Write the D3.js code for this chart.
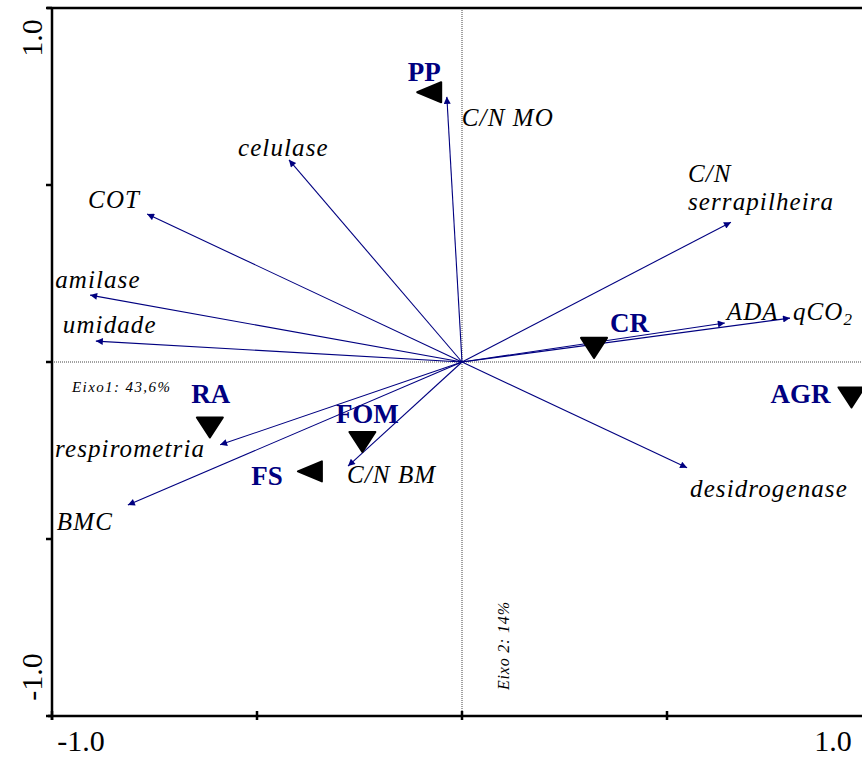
<!DOCTYPE html>
<html>
<head>
<meta charset="utf-8">
<script src="https://cdn.jsdelivr.net/npm/d3@7"></script>
<style>
  body { margin: 0; background: #fff; }
  svg { display: block; }
</style>
</head>
<body>
<div id="root"></div>
<script>
// variables (arrows)
var varNames = ["C/N MO", "celulase", "COT", "amilase", "umidade", "respirometria",
                "BMC", "C/N BM", "desidrogenase", "C/N serrapilheira", "ADA", "qCO2"];
var varX = [-0.037, -0.422, -0.768, -0.907, -0.893, -0.590, -0.815, -0.278, 0.549, 0.656, 0.641, 0.800];
var varY = [0.749, 0.571, 0.418, 0.189, 0.059, -0.234, -0.404, -0.294, -0.299, 0.395, 0.110, 0.124];

// sites (triangles)
var siteNames = ["PP", "CR", "AGR", "RA", "FS", "FOM"];
var siteX = [-0.080, 0.322, 0.950, -0.615, -0.371, -0.243];
var siteY = [0.762, 0.040, -0.100, -0.185, -0.309, -0.226];
var siteShape = ["left", "down", "down", "down", "left", "down"];

var tickValues = [-1, -0.5, 0, 0.5, 1];
var axisLabels = ["-1.0", "1.0"];
var axis1Label = "Eixo1: 43,6%";
var axis2Label = "Eixo 2: 14%";

// label placement (pixels from arrow tip / symbol centre)
var varLabelPos = [
  [15, 29], [-51, -4], [-59, -6], [-35, -7], [-33, -8], [-165, 12],
  [-71, 25], [-1, 17], [3, 29], [-43, -40], [2, -3], [3, 2]
];
var siteLabelPos = [
  [-5, -11, "middle"], [16, -16, "start"], [-21, 6, "end"],
  [1, -24, "middle"], [-27, 14, "end"], [5, -19, "middle"]
];

var width = 862, height = 758;
var navy = "#000080";

var svg = d3.select("#root").append("svg")
    .attr("width", width)
    .attr("height", height);

var x = d3.scaleLinear().domain([-1, 1]).range([52, 872]);
var y = d3.scaleLinear().domain([-1, 1]).range([716, 8]);

svg.append("defs").append("marker")
    .attr("id", "head")
    .attr("viewBox", "0 0 10 10")
    .attr("refX", 10).attr("refY", 5)
    .attr("markerWidth", 9).attr("markerHeight", 7)
    .attr("markerUnits", "userSpaceOnUse")
    .attr("orient", "auto")
  .append("path")
    .attr("d", "M0,0L10,5L0,10Z")
    .attr("fill", navy);

// zero lines
svg.append("line")
    .attr("x1", x(0)).attr("x2", x(0))
    .attr("y1", y(1)).attr("y2", y(-1))
    .attr("stroke", "#444").attr("stroke-width", 1)
    .attr("stroke-dasharray", "1,1");
svg.append("line")
    .attr("x1", x(-1)).attr("x2", width)
    .attr("y1", y(0)).attr("y2", y(0))
    .attr("stroke", "#444").attr("stroke-width", 1)
    .attr("stroke-dasharray", "1,1");

// frame / axes
var frame = svg.append("g").attr("stroke", "#000").attr("stroke-width", 2.5);
frame.append("line").attr("x1", x(-1) - 5).attr("x2", width).attr("y1", y(1)).attr("y2", y(1));
frame.append("line").attr("x1", x(-1)).attr("x2", x(-1)).attr("y1", y(1)).attr("y2", y(-1) + 4);
frame.append("line").attr("x1", x(-1) - 4).attr("x2", width).attr("y1", y(-1)).attr("y2", y(-1));

frame.selectAll(".yt").data(tickValues).enter().append("line")
    .attr("x1", x(-1) - 6).attr("x2", x(-1))
    .attr("y1", function(d) { return y(d); })
    .attr("y2", function(d) { return y(d); });
frame.selectAll(".xt").data(tickValues).enter().append("line")
    .attr("x1", function(d) { return x(d); })
    .attr("x2", function(d) { return x(d); })
    .attr("y1", y(-1) - 5).attr("y2", y(-1) + 4);

var serif = "'Liberation Serif', 'Times New Roman', serif";

// tick labels
svg.append("text").text(axisLabels[0])
    .attr("x", x(-1) + 29).attr("y", 751)
    .attr("text-anchor", "middle")
    .style("font-family", serif).style("font-size", "30px");
svg.append("text").text(axisLabels[1])
    .attr("x", x(1) - 39).attr("y", 751)
    .attr("text-anchor", "middle")
    .style("font-family", serif).style("font-size", "30px");
svg.append("text").text(axisLabels[1])
    .attr("transform", "translate(42," + (y(1) + 30) + ") rotate(-90)")
    .attr("text-anchor", "middle")
    .style("font-family", serif).style("font-size", "30px");
svg.append("text").text(axisLabels[0])
    .attr("transform", "translate(42," + (y(-1) - 39) + ") rotate(-90)")
    .attr("text-anchor", "middle")
    .style("font-family", serif).style("font-size", "30px");

// axis names
svg.append("text").text(axis1Label)
    .attr("x", 72).attr("y", 392)
    .style("font-family", serif).style("font-size", "15px")
    .style("font-style", "italic").style("letter-spacing", "1.4px");
svg.append("text").text(axis2Label)
    .attr("transform", "translate(509,690) rotate(-90)")
    .style("font-family", serif).style("font-size", "16px")
    .style("font-style", "italic").style("letter-spacing", "0.8px");

// arrows
var vars = varNames.map(function(n, i) {
  return {name: n, x: varX[i], y: varY[i], dx: varLabelPos[i][0], dy: varLabelPos[i][1]};
});

svg.append("g").selectAll("line").data(vars).enter().append("line")
    .attr("x1", x(0)).attr("y1", y(0))
    .attr("x2", function(d) { return x(d.x); })
    .attr("y2", function(d) { return y(d.y); })
    .attr("stroke", navy).attr("stroke-width", 1.1)
    .attr("marker-end", "url(#head)");

var vlab = svg.append("g")
    .style("font-family", serif).style("font-size", "25px")
    .style("font-style", "italic").style("letter-spacing", "1.1px")
    .selectAll("text").data(vars).enter().append("text")
    .attr("x", function(d) { return x(d.x) + d.dx; })
    .attr("y", function(d) { return y(d.y) + d.dy; });

vlab.each(function(d) {
  var t = d3.select(this);
  if (d.name == "C/N serrapilheira") {
    t.append("tspan").text("C/N");
    t.append("tspan").text("serrapilheira")
        .attr("x", x(d.x) + d.dx).attr("dy", 28);
  } else if (d.name == "qCO2") {
    t.append("tspan").text("qCO");
    t.append("tspan").text("2").attr("dy", 5).style("font-size", "17px");
  } else {
    t.text(d.name);
  }
});

// sites
var sites = siteNames.map(function(n, i) {
  return {name: n, x: siteX[i], y: siteY[i], shape: siteShape[i],
          dx: siteLabelPos[i][0], dy: siteLabelPos[i][1], anchor: siteLabelPos[i][2]};
});

svg.append("g").selectAll("path").data(sites).enter().append("path")
    .attr("transform", function(d) { return "translate(" + x(d.x) + "," + y(d.y) + ")"; })
    .attr("d", function(d) {
      return d.shape == "down" ? "M-13,-10L13,-10L0,10Z" : "M-12,0L12,-10L12,10Z";
    })
    .attr("fill", "#000").attr("stroke", "#000")
    .attr("stroke-width", 2).attr("stroke-linejoin", "round");

svg.append("g")
    .style("font-family", serif).style("font-size", "27px")
    .style("font-weight", "bold")
    .selectAll("text").data(sites).enter().append("text")
    .attr("x", function(d) { return x(d.x) + d.dx; })
    .attr("y", function(d) { return y(d.y) + d.dy; })
    .attr("text-anchor", function(d) { return d.anchor; })
    .attr("fill", navy)
    .text(function(d) { return d.name; });
</script>
</body>
</html>
